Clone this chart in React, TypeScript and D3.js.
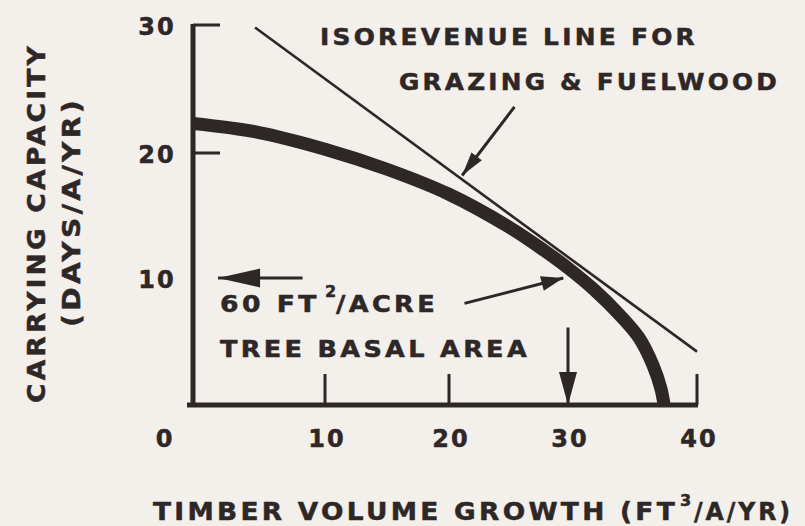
import React, { useEffect, useRef } from 'react';
import { select, scaleLinear, line, curveCatmullRom } from 'd3';

// timber volume growth (ft3/a/yr) vs carrying capacity (days/a/yr)
const curveGrowth = [0, 5, 10, 15, 20, 25, 28, 30, 32, 34, 35.5, 36.6, 37.2, 37.45];
const curveCapacity = [22.3, 21.6, 20.3, 18.7, 16.7, 14.1, 12.2, 10.8, 9.1, 7.1, 5.3, 3.1, 1.3, 0];

// isorevenue line end points
const isoGrowth = [4.7, 40];
const isoCapacity = [29.8, 4.2];

const xTickValues = [0, 10, 20, 30, 40];
const yTickValues = [10, 20, 30];
const xTickMarks = [10, 20, 40];
const yTickMarks = [20, 30];

// annotation arrows in data units
const arrows = [
  { from: [25.5, 23.6], to: [21.1, 18.2], len: 24, w: 13 },
  { from: [21.3, 8.0], to: [29.6, 10.0], len: 22, w: 15 },
  { from: [8.3, 10], to: [1.9, 10], len: 42, w: 19 },
  { from: [30, 6.1], to: [30, 0], len: 33, w: 18 },
];

const ink = '#2e2727';
const font = '"DejaVu Sans", sans-serif';

const arrowHead = (x1, y1, x2, y2, len, w) => {
  const d = Math.hypot(x2 - x1, y2 - y1);
  const ux = (x2 - x1) / d;
  const uy = (y2 - y1) / d;
  const bx = x2 - ux * len;
  const by = y2 - uy * len;
  return [
    [x2, y2],
    [bx - (uy * w) / 2, by + (ux * w) / 2],
    [bx + (uy * w) / 2, by - (ux * w) / 2],
  ];
};

// bold, wide lettering like the original figure
const styleText = (sel, size) =>
  sel
    .attr('font-family', font)
    .attr('font-weight', 'bold')
    .attr('font-size', size)
    .attr('fill', ink)
    .attr('stroke', ink)
    .attr('stroke-width', 0.5);

const App = () => {
  const svgRef = useRef(null);

  useEffect(() => {
    const svg = select(svgRef.current);
    svg.selectAll('*').remove();

    // scanned figure is slightly uneven, so use piecewise scales
    const x = scaleLinear().domain([0, 10, 20, 30, 40]).range([193, 325, 449, 568, 697]);
    const y = scaleLinear().domain([0, 10, 20, 30]).range([405, 278, 153, 25]);

    svg.append('rect').attr('width', 805).attr('height', 526).attr('fill', '#f3efea');

    svg
      .append('clipPath')
      .attr('id', 'plot-clip')
      .append('rect')
      .attr('x', x(0))
      .attr('y', 0)
      .attr('width', 805 - x(0))
      .attr('height', y(0));

    // production possibility curve
    const curvePts = curveGrowth.map((g, i) => [x(g), y(curveCapacity[i])]);
    svg
      .append('path')
      .attr('clip-path', 'url(#plot-clip)')
      .attr('d', line().curve(curveCatmullRom.alpha(0.5))(curvePts))
      .attr('fill', 'none')
      .attr('stroke', ink)
      .attr('stroke-width', 13);

    // isorevenue line
    svg
      .append('line')
      .attr('x1', x(isoGrowth[0]))
      .attr('y1', y(isoCapacity[0]))
      .attr('x2', x(isoGrowth[1]))
      .attr('y2', y(isoCapacity[1]))
      .attr('stroke', ink)
      .attr('stroke-width', 2.6);

    // axes
    svg
      .append('line')
      .attr('x1', x(0) - 6)
      .attr('x2', x(40) + 1)
      .attr('y1', y(0))
      .attr('y2', y(0))
      .attr('stroke', ink)
      .attr('stroke-width', 5);
    svg
      .append('line')
      .attr('x1', x(0))
      .attr('x2', x(0))
      .attr('y1', y(30) - 1)
      .attr('y2', y(0) + 2)
      .attr('stroke', ink)
      .attr('stroke-width', 5);

    svg
      .selectAll('.xtick')
      .data(xTickMarks)
      .join('line')
      .attr('class', 'xtick')
      .attr('x1', (d) => x(d))
      .attr('x2', (d) => x(d))
      .attr('y1', y(0))
      .attr('y2', y(0) - 31)
      .attr('stroke', ink)
      .attr('stroke-width', 3);
    svg
      .selectAll('.ytick')
      .data(yTickMarks)
      .join('line')
      .attr('class', 'ytick')
      .attr('x1', x(0))
      .attr('x2', x(0) + 27)
      .attr('y1', (d) => y(d))
      .attr('y2', (d) => y(d))
      .attr('stroke', ink)
      .attr('stroke-width', 3);

    svg
      .selectAll('.xlabel')
      .data(xTickValues)
      .join('text')
      .attr('class', 'xlabel')
      .attr('x', (d) => x(d) + (d === 0 ? -28 : 2))
      .attr('y', 438)
      .attr('dy', '0.36em')
      .attr('text-anchor', 'middle')
      .text((d) => d);
    svg
      .selectAll('.ylabel')
      .data(yTickValues)
      .join('text')
      .attr('class', 'ylabel')
      .attr('x', x(0) - 36)
      .attr('y', (d) => y(d) + 1)
      .attr('dy', '0.36em')
      .attr('text-anchor', 'middle')
      .text((d) => d);
    styleText(svg.selectAll('.xlabel, .ylabel'), 24).attr('letter-spacing', 2);

    // arrows
    arrows.forEach((a) => {
      const x1 = x(a.from[0]);
      const y1 = y(a.from[1]);
      const x2 = x(a.to[0]);
      const y2 = y(a.to[1]);
      svg
        .append('line')
        .attr('x1', x1)
        .attr('y1', y1)
        .attr('x2', x2)
        .attr('y2', y2)
        .attr('stroke', ink)
        .attr('stroke-width', 3);
      svg
        .append('polygon')
        .attr('points', arrowHead(x1, y1, x2, y2, a.len, a.w).join(' '))
        .attr('fill', ink);
    });

    // texts
    const texts = [
      { t: 'ISOREVENUE LINE FOR', x: 320, y: 45, len: 378, size: 23 },
      { t: 'GRAZING & FUELWOOD', x: 399, y: 90, len: 381, size: 23 },
      { t: '60 FT', x: 220, y: 312, len: 100, size: 23 },
      { t: '2', x: 325, y: 297, len: 0, size: 16 },
      { t: '/ACRE', x: 336, y: 312, len: 102, size: 23 },
      { t: 'TREE BASAL AREA', x: 220, y: 357, len: 310, size: 23 },
      { t: 'TIMBER VOLUME GROWTH (FT', x: 153, y: 520, len: 525, size: 24 },
      { t: '3', x: 680, y: 506, len: 0, size: 16 },
      { t: '/A/YR)', x: 694, y: 520, len: 99, size: 24 },
    ];
    texts.forEach((d) => {
      const el = styleText(svg.append('text'), d.size)
        .attr('x', d.x)
        .attr('y', d.y)
        .text(d.t);
      if (d.len) {
        el.attr('letter-spacing', 3)
          .attr('textLength', d.len)
          .attr('lengthAdjust', 'spacingAndGlyphs');
      }
    });

    styleText(svg.append('text'), 25)
      .attr('transform', 'translate(45,403) rotate(-90)')
      .attr('letter-spacing', 3)
      .attr('textLength', 360)
      .attr('lengthAdjust', 'spacingAndGlyphs')
      .text('CARRYING CAPACITY');
    styleText(svg.append('text'), 25)
      .attr('transform', 'translate(80,327) rotate(-90)')
      .attr('letter-spacing', 3)
      .attr('textLength', 230)
      .attr('lengthAdjust', 'spacingAndGlyphs')
      .text('(DAYS/A/YR)');
  }, []);

  return (
    <svg
      ref={svgRef}
      width={805}
      height={526}
      style={{ position: 'absolute', left: 0, top: 0, display: 'block' }}
    />
  );
};

export default App;
